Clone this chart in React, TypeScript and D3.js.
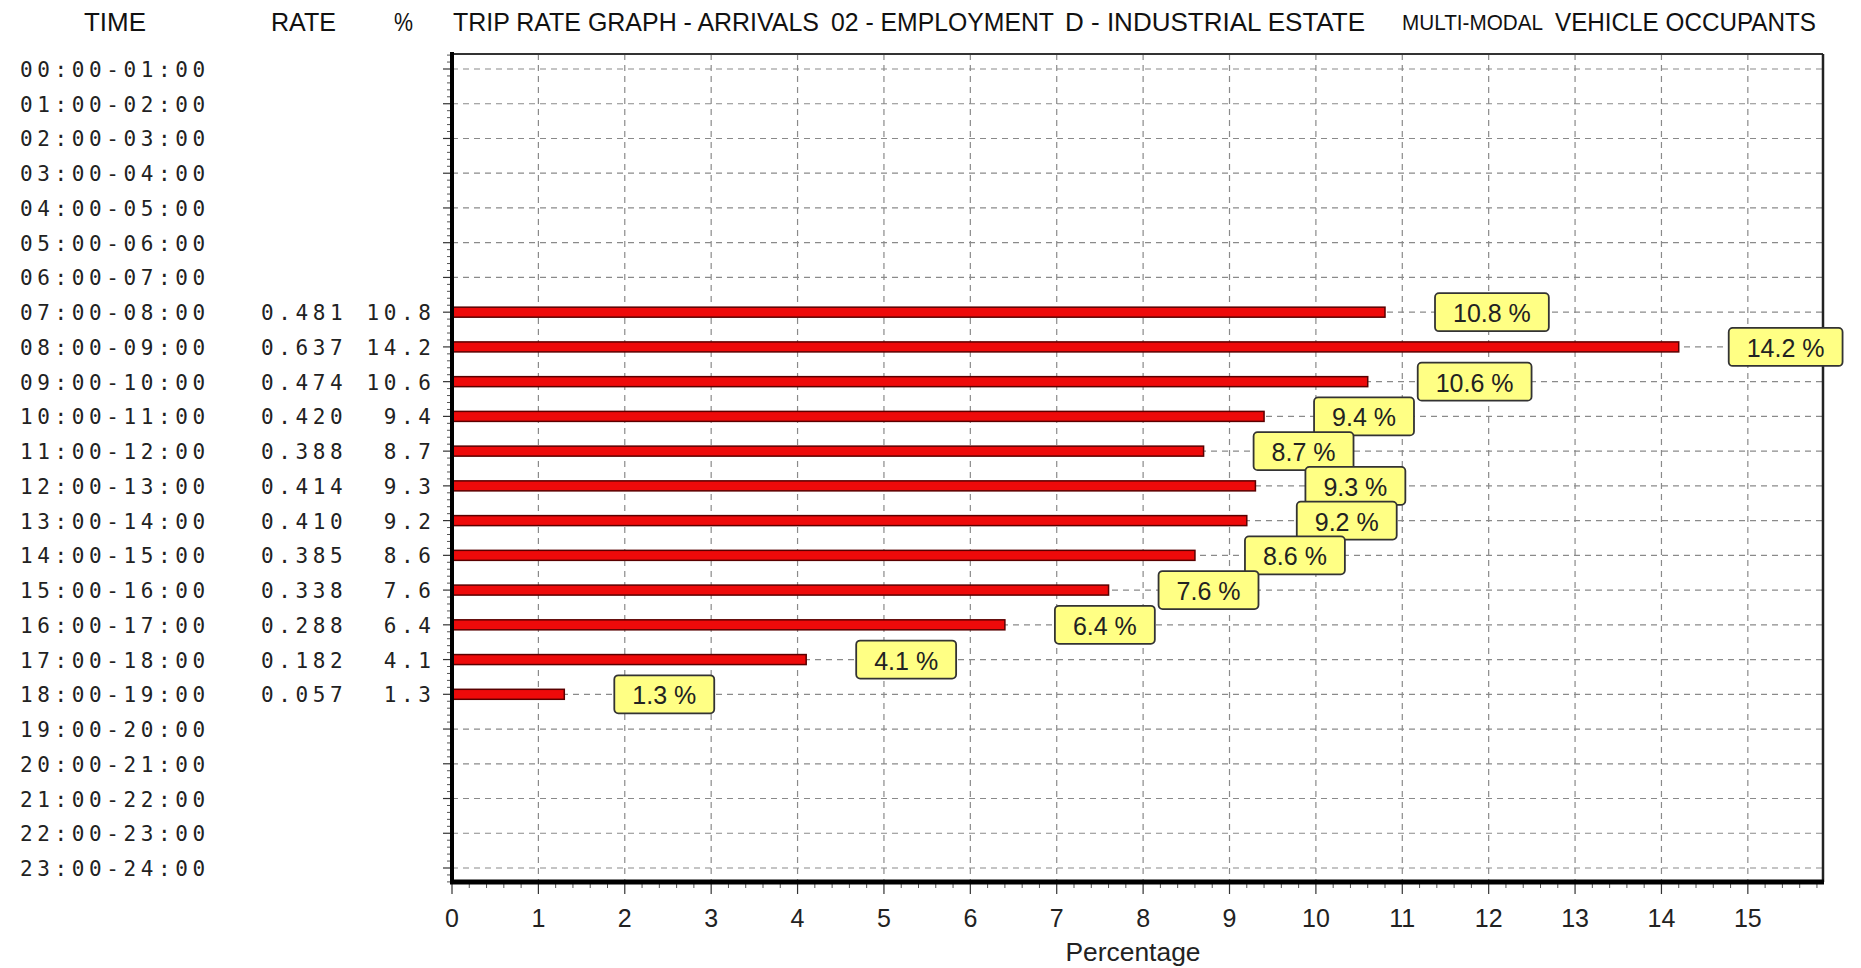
import React from "react";
import * as d3 from "d3";

const times = [
  "00:00-01:00", "01:00-02:00", "02:00-03:00", "03:00-04:00", "04:00-05:00", "05:00-06:00",
  "06:00-07:00", "07:00-08:00", "08:00-09:00", "09:00-10:00", "10:00-11:00", "11:00-12:00",
  "12:00-13:00", "13:00-14:00", "14:00-15:00", "15:00-16:00", "16:00-17:00", "17:00-18:00",
  "18:00-19:00", "19:00-20:00", "20:00-21:00", "21:00-22:00", "22:00-23:00", "23:00-24:00",
];
const rates: (number | null)[] = [
  null, null, null, null, null, null, null,
  0.481, 0.637, 0.474, 0.42, 0.388, 0.414, 0.41, 0.385, 0.338, 0.288, 0.182, 0.057,
  null, null, null, null, null,
];
const percents: (number | null)[] = [
  null, null, null, null, null, null, null,
  10.8, 14.2, 10.6, 9.4, 8.7, 9.3, 9.2, 8.6, 7.6, 6.4, 4.1, 1.3,
  null, null, null, null, null,
];
const xTicks = [0, 1, 2, 3, 4, 5, 6, 7, 8, 9, 10, 11, 12, 13, 14, 15];
const headerLabels = { time: "TIME", rate: "RATE", pct: "%" };
const titleParts = [
  "TRIP RATE GRAPH - ARRIVALS",
  "02 - EMPLOYMENT",
  "D - INDUSTRIAL ESTATE",
  "MULTI-MODAL",
  "VEHICLE OCCUPANTS",
];
const xAxisTitle = "Percentage";

const W = 1861;
const H = 968;
const plot = { left: 452, right: 1823, top: 54, bottom: 882 };
const xMax = 15.87;

const SANS = "'Liberation Sans', Arial, sans-serif";
const MONO = "'DejaVu Sans Mono', 'Liberation Mono', monospace";
const MONO_SIZE = 21;
const MONO_SP = 4.6;

let ctx: CanvasRenderingContext2D | null = null;
function measure(text: string, font: string): number {
  if (!ctx) ctx = document.createElement("canvas").getContext("2d");
  if (!ctx) return text.length * 12;
  ctx.font = font;
  return ctx.measureText(text).width;
}

export default function App() {
  const x = d3.scaleLinear().domain([0, xMax]).range([plot.left, plot.right]);
  const y = d3.scalePoint<string>().domain(times).range([69, 868]);

  const minorX = d3.range(0, xMax, 0.2).filter((v) => Math.abs(v - Math.round(v)) > 0.01);
  const rowStep = y.step();
  const minorY: number[] = [];
  times.forEach((t) => {
    for (let k = -2; k <= 2; k++) {
      if (k === 0) continue;
      const yy = (y(t) as number) + (k * rowStep) / 5;
      if (yy > plot.top && yy < plot.bottom) minorY.push(yy);
    }
  });

  const titleX = [453, 831, 1065, 1402, 1555];
  const titleW = [366, 223, 300, 141, 261];
  const titleSize = [25, 25, 25, 22, 25];

  const labelFont = `25px ${SANS}`;

  return (
    <svg
      width={W}
      height={H}
      style={{ position: "absolute", left: 0, top: 0, background: "#ffffff" }}
    >
      <rect x={0} y={0} width={W} height={H} fill="#ffffff" />

      {/* header */}
      <text x={115} y={22} fontFamily={SANS} fontSize={25} fill="#111" textAnchor="middle" dominantBaseline="central" textLength={62} lengthAdjust="spacingAndGlyphs">
        {headerLabels.time}
      </text>
      <text x={271} y={22} fontFamily={SANS} fontSize={25} fill="#111" dominantBaseline="central" textLength={65} lengthAdjust="spacingAndGlyphs">
        {headerLabels.rate}
      </text>
      <text x={394} y={22} fontFamily={SANS} fontSize={25} fill="#111" dominantBaseline="central" textLength={19} lengthAdjust="spacingAndGlyphs">
        {headerLabels.pct}
      </text>
      {titleParts.map((p, i) => (
        <text key={p} x={titleX[i]} y={22} fontFamily={SANS} fontSize={titleSize[i]} fill="#111" dominantBaseline="central" textLength={titleW[i]} lengthAdjust="spacingAndGlyphs">
          {p}
        </text>
      ))}

      {/* grid */}
      {times.map((t) => (
        <line key={"hg" + t} x1={plot.left} x2={plot.right} y1={y(t)} y2={y(t)} stroke="#8a8a8a" strokeWidth={1.2} strokeDasharray="6,5" />
      ))}
      {xTicks.filter((v) => v > 0).map((v) => (
        <line key={"vg" + v} x1={x(v)} x2={x(v)} y1={plot.top} y2={plot.bottom} stroke="#8a8a8a" strokeWidth={1.2} strokeDasharray="6,5" />
      ))}

      {/* frame */}
      <line x1={plot.left} x2={plot.right} y1={plot.top} y2={plot.top} stroke="#333" strokeWidth={2} />
      <line x1={plot.right} x2={plot.right} y1={plot.top} y2={plot.bottom} stroke="#222" strokeWidth={2.5} />

      {/* y ticks */}
      {times.map((t) => (
        <line key={"yt" + t} x1={plot.left - 9} x2={plot.left} y1={y(t)} y2={y(t)} stroke="#333" strokeWidth={1.2} />
      ))}
      {minorY.map((yy, i) => (
        <line key={"ym" + i} x1={plot.left - 5} x2={plot.left} y1={yy} y2={yy} stroke="#555" strokeWidth={1} />
      ))}

      {/* x ticks */}
      {xTicks.map((v) => (
        <line key={"xt" + v} x1={x(v)} x2={x(v)} y1={plot.bottom} y2={plot.bottom + 12} stroke="#333" strokeWidth={1.2} />
      ))}
      {minorX.map((v, i) => (
        <line key={"xm" + i} x1={x(v)} x2={x(v)} y1={plot.bottom} y2={plot.bottom + 6} stroke="#555" strokeWidth={1} />
      ))}
      {xTicks.map((v) => (
        <text key={"xl" + v} x={x(v)} y={918} fontFamily={SANS} fontSize={25} fill="#222" textAnchor="middle" dominantBaseline="central">
          {v}
        </text>
      ))}
      <text x={1133} y={952} fontFamily={SANS} fontSize={25} fill="#222" textAnchor="middle" dominantBaseline="central" textLength={135} lengthAdjust="spacingAndGlyphs">
        {xAxisTitle}
      </text>

      {/* bars */}
      {times.map((t, i) => {
        const v = percents[i];
        if (v == null) return null;
        return (
          <rect key={"b" + t} x={x(0)} y={(y(t) as number) - 5} width={x(v) - x(0)} height={10} fill="#ee0a0a" stroke="#5a0000" strokeWidth={1.5} />
        );
      })}

      {/* axes */}
      <line x1={plot.left} x2={plot.left} y1={plot.top - 2} y2={plot.bottom + 2} stroke="#000" strokeWidth={4} />
      <line x1={plot.left - 2} x2={plot.right + 1} y1={plot.bottom} y2={plot.bottom} stroke="#000" strokeWidth={5} />

      {/* value labels */}
      {times.map((t, i) => {
        const v = percents[i];
        if (v == null) return null;
        const txt = `${v.toFixed(1)} %`;
        const tw = measure(txt, labelFont);
        const bw = tw + 36;
        const bx = x(v) + 50;
        const cy = y(t) as number;
        return (
          <g key={"l" + t}>
            <rect x={bx} y={cy - 19} width={bw} height={38} rx={4} ry={4} fill="#ffff84" stroke="#333" strokeWidth={1.8} />
            <text x={bx + bw / 2} y={cy + 1} fontFamily={SANS} fontSize={25} fill="#222" textAnchor="middle" dominantBaseline="central">
              {txt}
            </text>
          </g>
        );
      })}

      {/* row labels */}
      {times.map((t, i) => (
        <g key={"r" + t}>
          <text x={20} y={(y(t) as number) + 1} fontFamily={MONO} fontSize={MONO_SIZE} fill="#222" dominantBaseline="central" letterSpacing={MONO_SP}>
            {t}
          </text>
          {rates[i] != null && (
            <text x={261} y={(y(t) as number) + 1} fontFamily={MONO} fontSize={MONO_SIZE} fill="#222" dominantBaseline="central" letterSpacing={MONO_SP}>
              {(rates[i] as number).toFixed(3)}
            </text>
          )}
          {percents[i] != null && (
            <text x={431 + MONO_SP} y={(y(t) as number) + 1} fontFamily={MONO} fontSize={MONO_SIZE} fill="#222" dominantBaseline="central" textAnchor="end" letterSpacing={MONO_SP}>
              {(percents[i] as number).toFixed(1)}
            </text>
          )}
        </g>
      ))}
    </svg>
  );
}
